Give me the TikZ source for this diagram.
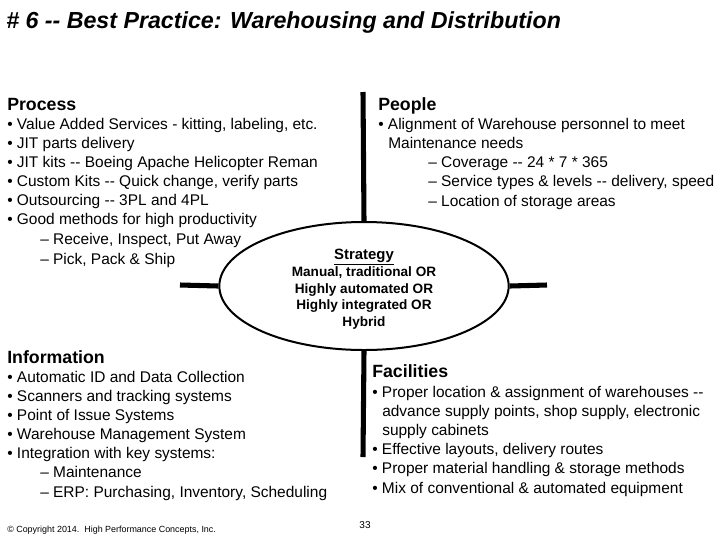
\documentclass[tikz,border=0pt]{standalone}
\usepackage{fontspec}
\setmainfont{Liberation Sans}
\usetikzlibrary{shapes.geometric}
\begin{document}
\begin{tikzpicture}[x=0.75pt,y=-0.75pt,
  txt/.style={anchor=base west,inner sep=0pt,font=\fontsize{11.6}{13}\selectfont},
  hdr/.style={anchor=base west,inner sep=0pt,font=\fontsize{13.3}{15}\selectfont\bfseries},
  bar/.style={line width=3.8pt},
  strat/.style={anchor=base,inner sep=0pt,font=\fontsize{10.2}{12}\selectfont\bfseries}]
\useasboundingbox (0,0) rectangle (720,540);
\node[anchor=base west,inner sep=0pt,font=\fontsize{17.4}{20}\selectfont\bfseries\itshape] (title) at (6,28) {\# 6 -{}- Best Practice: Warehousing and Distribution};
% structure
\node[ellipse,draw,line width=1.5pt,minimum width=217pt,minimum height=96pt,inner sep=0pt] (ell) at (364,286) {};
\coordinate (vt) at (363,92); \coordinate (vb) at (363,457);
\coordinate (hl) at (180,285); \coordinate (hr) at (547,285);
\draw[bar] (vt) -- (ell.north);
\draw[bar] (ell.south) -- (vb);
\draw[bar] (hl) -- (ell.west);
\draw[bar] (ell.east) -- (hr);
\node[strat,font=\fontsize{11.2}{12}\selectfont\bfseries] (s0) at (364,259) {\underline{Strategy}};
\node[strat] (s1) at (364,276) {Manual, traditional OR};
\node[strat] (s2) at (364,293) {Highly automated OR};
\node[strat] (s3) at (364,309) {Highly integrated OR};
\node[strat] (s4) at (364,326) {Hybrid};
% Process
\node[hdr] (ph) at (7,110) {Process};
\node[txt] (p1) at (7,129) {• Value Added Services - kitting, labeling, etc.};
\node[txt] (p2) at (7,148) {• JIT parts delivery};
\node[txt] (p3) at (7,167) {• JIT kits -{}- Boeing Apache Helicopter Reman};
\node[txt] (p4) at (7,186) {• Custom Kits -{}- Quick change, verify parts};
\node[txt] (p5) at (7,205) {• Outsourcing -{}- 3PL and 4PL};
\node[txt] (p6) at (7,224) {• Good methods for high productivity};
\node[txt] (p7) at (40,244) {– Receive, Inspect, Put Away};
\node[txt] (p8) at (40,264) {– Pick, Pack \& Ship};
% People
\node[hdr] (eh) at (378,110) {People};
\node[txt] (e1) at (378,129) {• Alignment of Warehouse personnel to meet};
\node[txt] (e2) at (388,148) {Maintenance needs};
\node[txt] (e3) at (428,167) {– Coverage -{}- 24 * 7 * 365};
\node[txt] (e4) at (428,186) {– Service types \& levels -{}- delivery, speed};
\node[txt] (e5) at (428,206) {– Location of storage areas};
% Information
\node[hdr] (ih) at (7,363) {Information};
\node[txt] (i1) at (7,382) {• Automatic ID and Data Collection};
\node[txt] (i2) at (7,401) {• Scanners and tracking systems};
\node[txt] (i3) at (7,420) {• Point of Issue Systems};
\node[txt] (i4) at (7,439) {• Warehouse Management System};
\node[txt] (i5) at (7,458) {• Integration with key systems:};
\node[txt] (i6) at (40,477) {– Maintenance};
\node[txt] (i7) at (40,497) {– ERP: Purchasing, Inventory, Scheduling};
% Facilities
\node[hdr] (fh) at (372,377) {Facilities};
\node[txt] (f1) at (372,397) {• Proper location \& assignment of warehouses -{}-};
\node[txt] (f2) at (382,416) {advance supply points, shop supply, electronic};
\node[txt] (f3) at (382,435) {supply cabinets};
\node[txt] (f4) at (372,454) {• Effective layouts, delivery routes};
\node[txt] (f5) at (372,473) {• Proper material handling \& storage methods};
\node[txt] (f6) at (372,493) {• Mix of conventional \& automated equipment};
% footer
\node[anchor=base west,inner sep=0pt,font=\fontsize{6.7}{8}\selectfont] (cp) at (7,532) {© Copyright 2014.\ \ High Performance Concepts, Inc.};
\node[anchor=base,inner sep=0pt,font=\fontsize{7.5}{9}\selectfont] (pg) at (365,528) {33};
\end{tikzpicture}
\end{document}
